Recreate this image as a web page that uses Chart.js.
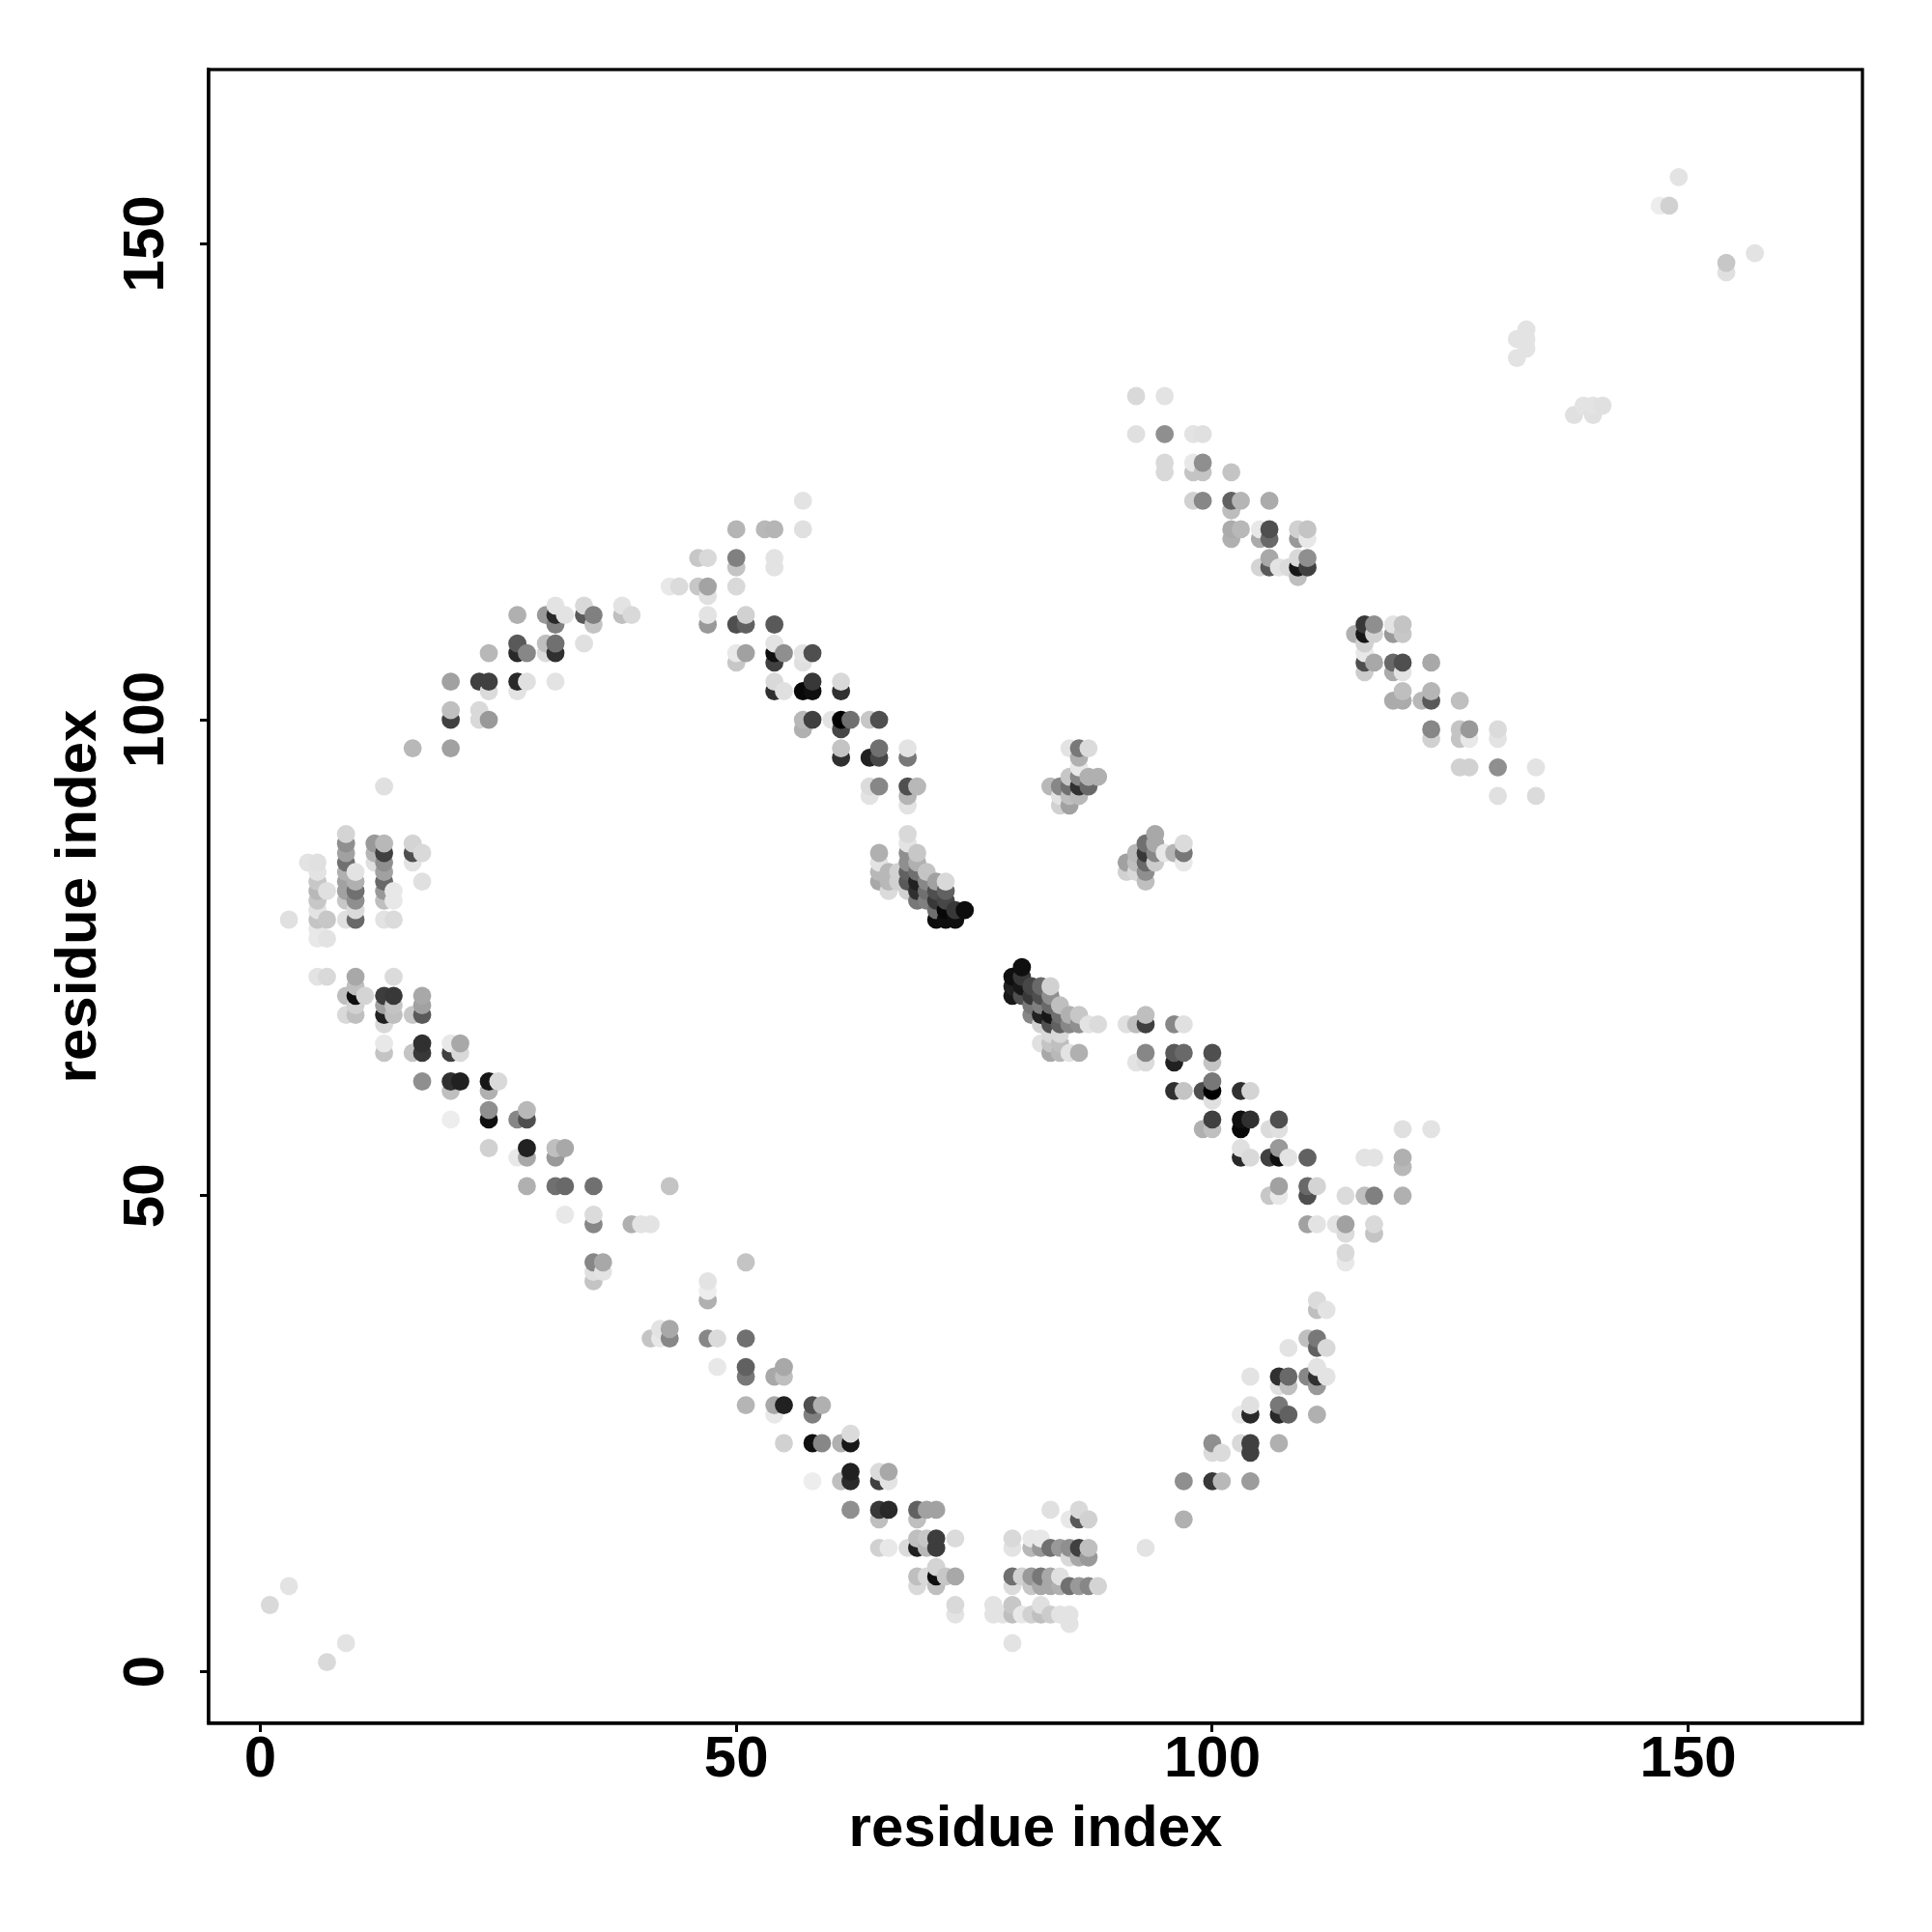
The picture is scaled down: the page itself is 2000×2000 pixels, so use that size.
<!DOCTYPE html>
<html lang="en">
<head>
<meta charset="UTF-8">
<title>Residue contact map</title>
<script src="https://cdn.jsdelivr.net/npm/chart.js@4"></script>
<style>
  html, body { margin: 0; background: #fff; }
  canvas { display: block; }
</style>
</head>
<body>
<canvas id="contactMap" width="2000" height="2000"></canvas>
<script>
// each contact is [residue x, residue y, strength in percent]
const cornerSpots = [[1,7,15],[3,9,11],[7,1,15],[9,3,11]];

const farSpots = [[149,157,11],[147,154,7],[148,154,18],[154,148,22],[154,147,12],[157,149,11],
  [133,141,11],[133,140,11],[133,139,11],[132,140,11],[132,138,11],
  [138,132,12],[139,133,11],[140,132,12],[140,133,11],[141,133,12]];

const leftBlock = [[3,79,12],[5,85,11],[6,85,12],[6,84,11],[6,83,22],[6,82,28],[6,81,22],[6,80,11],[6,79,23],[6,78,9],[6,77,9],
  [7,82,12],[7,79,22],[7,77,11],
  [9,88,17],[9,87,44],[9,86,37],[9,85,56],[9,84,31],[9,83,37],[9,82,37],[9,81,22],[9,79,12],
  [10,84,11],[10,83,31],[10,82,56],[10,81,44],[10,80,14],[10,79,59],
  [12,87,40],[12,86,29],[12,85,12],
  [13,93,12],[13,87,28],[13,86,75],[13,85,44],[13,84,37],[13,83,59],[13,82,40],[13,81,25],[13,79,11],
  [14,82,9],[14,81,9],[14,79,14],[16,87,17],[16,86,69],[16,85,11],[17,86,15],[17,83,12]];

const lowerBandA = [[6,73,11],[7,73,15],[9,71,25],[9,69,15],[10,73,34],[10,72,25],[10,71,94],[10,70,18],[10,69,25],[11,71,17],
  [13,71,76],[13,70,37],[13,69,87],[13,68,15],[14,73,14],[14,71,78],[14,70,23],[14,69,25],[16,69,22],[17,71,34],[17,70,37],[17,69,65],
  [13,66,9],[13,65,23],[16,65,23],[17,66,81],[17,65,78],[20,66,9],[20,65,75],[21,66,34],[21,65,15],
  [17,62,44],[20,62,81],[21,62,87],[24,62,91],[25,62,15],[20,61,25],[24,61,31],
  [24,59,44],[24,58,94],[20,58,7],[27,58,47],[28,59,28],[28,58,69],[24,55,18],[28,55,87],[27,54,9],[28,54,34],[31,55,25],[31,54,40],[32,55,34],
  [28,51,31],[31,51,56],[32,51,59],[35,51,56],[43,51,23],[32,48,9],[35,48,14],[35,47,47],[39,47,31],[40,47,11],[41,47,11],
  [35,43,47],[36,43,34],[35,42,12],[36,42,11],[35,41,23],[47,41,11],[47,40,7],[47,39,31],[51,43,23]];

const lowerBandB = [[41,35,23],[42,35,9],[43,35,47],[43,36,34],[42,36,11],[47,35,47],[48,35,14],[51,35,56],
  [48,32,9],[51,32,62],[51,31,53],[54,31,34],[55,32,34],[55,31,25],
  [51,28,29],[54,28,34],[55,28,87],[54,27,9],[58,28,69],[59,28,31],[58,27,50],
  [55,24,18],[58,24,94],[59,24,47],[61,24,31],[62,24,91],[62,25,14],
  [58,20,7],[61,20,25],[62,21,87],[62,20,83],[65,21,14],[66,21,34],[65,20,75],[66,20,11],
  [62,17,44],[65,17,78],[66,17,84],[69,17,62],[70,17,37],[71,17,37],[65,16,25],[69,16,25],
  [65,13,18],[66,13,9],[68,13,14],[69,14,25],[69,13,87],[70,14,22],[70,13,28],[71,14,76],[71,13,76],[73,14,14],
  [69,10,25],[69,9,15],[70,10,15],[71,11,17],[71,10,94],[71,9,25],[72,10,22],[73,10,34],[73,7,15],[73,6,11]];

const bottomBlock = [[79,3,11],[77,7,11],[77,6,11],[78,6,11],[79,7,22],[79,6,25],[80,6,9],[81,6,18],[82,7,12],[82,6,25],[83,6,20],[84,6,11],[85,6,11],[85,5,11],
  [79,10,56],[79,9,14],[80,10,18],[81,10,40],[81,9,22],[82,10,53],[82,9,34],[83,10,34],[83,9,34],[84,10,12],[84,9,31],[85,9,56],[86,9,40],[87,9,47],[88,9,17],
  [79,14,15],[79,13,11],[81,14,9],[81,13,28],[82,14,9],[82,13,40],[83,13,56],[84,13,40],[85,13,44],[85,12,15],[86,13,75],[86,12,34],[87,13,25],[87,12,40],
  [83,17,12],[85,16,9],[86,17,15],[86,16,65],[87,16,18],[93,13,11]];

const risingBand = [[97,16,31],[97,20,44],[100,20,78],[101,20,28],[104,20,39],
  [100,24,44],[100,23,14],[101,23,14],[103,24,15],[104,24,75],[104,23,75],[107,24,31],
  [103,27,9],[104,28,12],[104,27,84],[107,28,53],[107,27,84],[108,27,62],[111,27,31],
  [104,31,11],[107,31,81],[107,30,12],[108,31,59],[108,30,25],[110,31,47],[111,32,11],[111,31,81],[111,30,40],[112,31,11],
  [108,34,11],[110,35,25],[111,35,53],[111,34,62],[112,34,15],[111,39,14],[111,38,25],[112,38,11]];

const centreLower = [[80,74,94],[79,73,94],[79,72,87],[79,71,91],[80,73,78],[80,72,91],[80,71,69],
  [81,72,72],[81,71,78],[81,70,53],[81,69,47],[82,72,59],[82,71,69],[82,70,50],[82,69,87],[82,68,18],[82,66,12],
  [83,72,18],[83,71,44],[83,70,59],[83,69,91],[83,68,69],[83,67,15],[83,66,23],[83,65,34],
  [84,70,25],[84,69,56],[84,68,62],[84,67,15],[84,66,25],[84,65,28],
  [85,69,31],[85,68,47],[85,65,11],[86,69,22],[86,68,44],[86,65,31],[87,68,11],[88,68,14]];

const centreUpper = [[65,86,31],[65,85,11],[65,84,28],[65,83,34],[66,84,28],[66,83,28],[66,82,14],[67,84,18],[67,83,18],
  [68,88,15],[68,87,11],[68,86,44],[68,85,44],[68,84,62],[68,83,65],[68,82,18],
  [69,86,22],[69,85,31],[69,84,56],[69,83,87],[69,82,81],[69,81,53],
  [70,84,23],[70,83,47],[70,82,56],[70,81,50],
  [71,83,37],[71,82,69],[71,81,78],[71,80,56],[71,79,95],
  [72,83,15],[72,82,62],[72,81,72],[72,80,97],[72,79,94],[73,80,78],[73,79,94],[74,80,95]];

const midSpots = [[85,97,11],[86,97,53],[87,97,14],[86,96,31],[86,95,9],[87,94,31],[88,94,31],
  [83,93,28],[84,93,47],[85,94,22],[85,93,56],[86,94,47],[86,93,81],[87,93,59],
  [84,92,11],[85,92,25],[86,92,28],[84,91,18],[85,91,37],
  [94,88,34],[93,87,56],[94,87,34],[92,86,28],[93,86,78],[94,86,47],
  [91,85,37],[92,85,25],[93,85,59],[94,85,20],[91,84,18],[92,84,15],[93,84,44],[93,83,25],
  [95,86,9],[96,86,29],[97,87,14],[97,86,53],[97,85,9]];

const centreRightBand = [[91,68,12],[92,68,26],[93,69,25],[93,68,75],[96,68,47],[97,68,12],
  [93,65,47],[92,64,11],[93,64,14],[96,65,65],[97,65,59],[96,64,87],[100,65,69],[100,64,23],
  [96,61,81],[97,61,23],[99,61,69],[100,62,53],[100,61,100],[100,60,12],[103,61,81],[104,61,17],
  [99,57,31],[100,58,75],[100,57,25],[103,58,94],[104,58,81],[103,57,97],[106,57,14],[107,58,69],[107,57,12],
  [103,55,12],[103,54,84],[104,54,15],[106,54,75],[107,55,40],[107,54,94],[108,54,11],[110,54,62],
  [116,54,11],[117,54,11],[120,57,12],[123,57,11],[120,54,31],[120,53,28],
  [106,50,22],[107,51,37],[107,50,9],[110,51,59],[110,50,69],[111,51,17],[114,50,14],[116,50,25],[117,50,50],[120,50,31],
  [110,47,37],[111,47,11],[113,47,11],[114,47,37],[114,46,14],[117,47,15],[117,46,23],[114,44,15],[114,43,9]];

const upperRightA = [[92,134,15],[95,134,11],[92,130,12],[95,130,44],[98,130,11],[99,130,12],
  [95,127,15],[95,126,15],[98,127,9],[98,126,23],[99,127,44],[99,126,23],[102,126,23],
  [98,123,18],[99,123,47],[102,123,62],[102,122,26],[103,123,29],[106,123,33],
  [102,120,33],[102,119,31],[103,120,28],[105,120,9],[105,119,33],[106,120,69],[106,119,59],[109,120,18],[109,119,40],[110,120,23],[110,119,9],
  [105,116,17],[106,117,34],[106,116,65],[107,116,11],[108,116,14],[109,117,15],[109,116,91],[109,115,25],[110,117,44],[110,116,75]];

const upperRightB = [[115,109,31],[116,110,78],[116,109,91],[116,108,18],[116,107,9],[116,106,69],[116,105,20],[117,110,44],[117,109,18],[117,106,34],
  [119,110,11],[119,109,40],[120,110,23],[120,109,22],[119,106,59],[119,105,33],[120,106,69],[120,105,11],[123,106,34],
  [120,103,25],[119,102,33],[120,102,33],[122,102,28],[123,103,29],[123,102,65],[126,102,25],
  [123,99,47],[123,98,18],[126,99,23],[126,98,23],[127,99,40],[127,98,9],[130,99,14],[130,98,11],
  [126,95,18],[127,95,18],[130,95,44],[134,95,11],[130,92,12],[134,92,14]];

const upperLeftBand = [[16,97,28],[20,97,37],[20,101,25],[20,100,75],[23,101,15],[23,100,15],[24,100,40],
  [20,104,37],[23,104,75],[24,104,75],[24,103,14],[27,104,84],[27,103,11],[28,104,12],[31,104,11],
  [24,107,28],[27,108,65],[27,107,84],[28,107,47],[30,108,25],[30,107,14],[31,108,56],[31,107,81],[34,108,12],
  [27,111,31],[30,111,40],[31,112,11],[31,111,84],[31,110,50],[32,111,11],[34,112,15],[34,111,65],[35,111,50],[35,110,23],
  [38,112,11],[38,111,25],[39,111,15]];

const upperMiddleBand = [[57,123,11],[50,120,29],[53,120,28],[54,120,29],[57,120,12],
  [46,117,22],[47,117,15],[50,117,50],[50,116,23],[54,117,11],[54,116,11],
  [43,114,9],[44,114,14],[46,114,22],[47,114,36],[47,113,12],[50,114,15],
  [47,111,11],[47,110,40],[50,110,69],[51,111,18],[51,110,62],[54,110,65],
  [50,107,9],[50,106,22],[51,107,37],[54,108,11],[54,107,94],[54,106,75],[55,107,44],[57,107,11],[57,106,12],[58,107,69],
  [54,104,15],[54,103,81],[55,103,12],[57,103,97],[58,104,78],[58,103,94],[61,104,15],[61,103,81],
  [57,100,28],[57,99,31],[58,100,75],[60,100,11],[61,100,100],[61,99,72],[62,100,56],[64,100,22],[65,100,69],
  [61,97,23],[61,96,81],[64,96,87],[65,97,56],[65,96,72],[68,97,11],[68,96,53],
  [64,93,14],[64,92,11],[65,93,47],[68,93,69],[68,92,29],[68,91,11],[69,93,28]];

const tickValues = [0, 50, 100, 150];
const axisMin = -5.43;
const axisMax = 168.3;
const axisTitle = 'residue index';

// later residues paint over earlier ones in the original
const contacts = [cornerSpots, farSpots, leftBlock, lowerBandA, lowerBandB, bottomBlock, risingBand,
  centreLower, centreUpper, midSpots, centreRightBand, upperRightA, upperRightB, upperLeftBand, upperMiddleBand]
  .flat()
  .sort((a, b) => a[0] - b[0] || a[1] - b[1]);

function strengthToGray(p) {
  const g = Math.round(255 * (1 - p / 100));
  return `rgb(${g},${g},${g})`;
}

const plotFont = { family: '"Liberation Sans", Arial, sans-serif', size: 60, weight: 'bold' };

// top and right sides of the box, the scales only draw the other two
const boxFrame = {
  id: 'boxFrame',
  afterDraw(chart) {
    const { ctx, chartArea: a } = chart;
    ctx.save();
    ctx.strokeStyle = '#000';
    ctx.lineWidth = 3.3;
    ctx.strokeRect(a.left, a.top, a.right - a.left, a.bottom - a.top);
    ctx.restore();
  }
};

function sharedAxis() {
  return {
    type: 'linear',
    min: axisMin,
    max: axisMax,
    afterBuildTicks: scale => { scale.ticks = tickValues.map(v => ({ value: v })); },
    grid: { drawOnChartArea: false, drawTicks: true, tickLength: 9, tickColor: '#000', tickWidth: 3 },
    border: { display: true, color: '#000', width: 3.3 },
    title: { display: true, text: axisTitle, color: '#000', font: plotFont, padding: 0 },
    ticks: { color: '#000', font: plotFont, autoSkip: false, padding: -7, callback: v => String(v) }
  };
}

const xAxis = sharedAxis();
xAxis.afterFit = scale => { scale.height = 146; };
xAxis.ticks.maxRotation = 0;

const yAxis = sharedAxis();
yAxis.afterFit = scale => { scale.width = 170; };
yAxis.ticks.minRotation = 90;
yAxis.ticks.maxRotation = 90;
yAxis.ticks.crossAlign = 'center';
yAxis.ticks.padding = 4;

new Chart(document.getElementById('contactMap').getContext('2d'), {
  type: 'scatter',
  data: {
    datasets: [{
      data: contacts.map(c => ({ x: c[0], y: c[1] })),
      pointBackgroundColor: contacts.map(c => strengthToGray(c[2])),
      pointBorderWidth: 0,
      pointRadius: 9.4,
      pointHoverRadius: 9.4
    }]
  },
  options: {
    responsive: false,
    animation: false,
    layout: { padding: { left: 46, top: 72, right: 72, bottom: 70 } },
    plugins: { legend: { display: false }, tooltip: { enabled: false } },
    scales: { x: xAxis, y: yAxis }
  },
  plugins: [boxFrame]
});
</script>
</body>
</html>
